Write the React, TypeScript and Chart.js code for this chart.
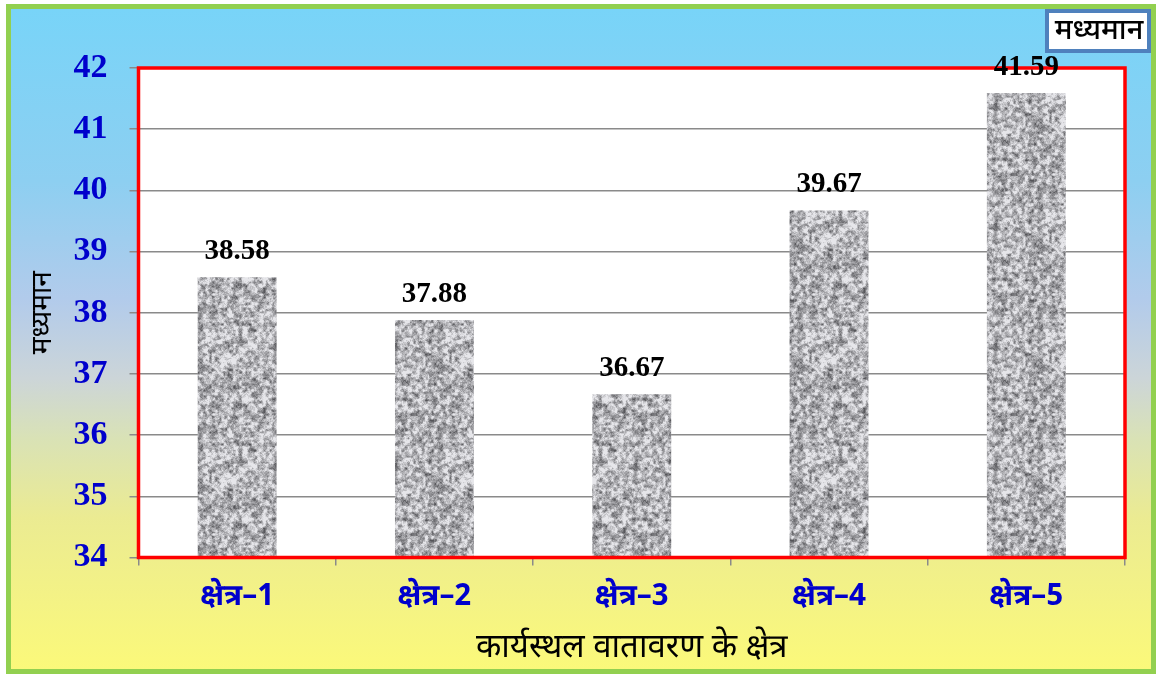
import React, { useEffect, useRef } from "react";
import { Chart, registerables } from "chart.js";

Chart.register(...registerables);

const categories = ["क्षेत्र–1", "क्षेत्र–2", "क्षेत्र–3", "क्षेत्र–4", "क्षेत्र–5"];
const meanValues = [38.58, 37.88, 36.67, 39.67, 41.59];
const seriesLabel = "मध्यमान";
const yAxisTitle = "मध्यमान";
const xAxisTitle = "कार्यस्थल वातावरण के क्षेत्र";
const yMin = 34;
const yMax = 42;

const DEVA = "'Noto Sans Devanagari', 'Lohit Devanagari', 'FreeSans', 'Noto Sans', sans-serif";
const SERIF = "'Liberation Serif', 'DejaVu Serif', serif";

function makeTexture(): CanvasPattern | string {
  const size = 120;
  const c = document.createElement("canvas");
  c.width = size;
  c.height = size;
  const ctx = c.getContext("2d");
  if (!ctx) return "#aaaaaa";
  let seed = 987654321;
  const rnd = () => {
    seed = (Math.imul(seed, 1664525) + 1013904223) >>> 0;
    return seed / 4294967296;
  };
  const octave = (cells: number) => {
    const g: number[] = [];
    for (let i = 0; i < cells * cells; i++) g.push(rnd());
    const v = (i: number, j: number) =>
      g[(((j % cells) + cells) % cells) * cells + (((i % cells) + cells) % cells)];
    return (x: number, y: number) => {
      const fx = (x / size) * cells;
      const fy = (y / size) * cells;
      const x0 = Math.floor(fx);
      const y0 = Math.floor(fy);
      const tx = fx - x0;
      const ty = fy - y0;
      const sx = tx * tx * (3 - 2 * tx);
      const sy = ty * ty * (3 - 2 * ty);
      const a = v(x0, y0) * (1 - sx) + v(x0 + 1, y0) * sx;
      const b = v(x0, y0 + 1) * (1 - sx) + v(x0 + 1, y0 + 1) * sx;
      return a * (1 - sy) + b * sy;
    };
  };
  const o1 = octave(24);
  const o2 = octave(40);
  const o3 = octave(60);
  const o4 = octave(120);
  const img = ctx.createImageData(size, size);
  for (let y = 0; y < size; y++) {
    for (let x = 0; x < size; x++) {
      const n = 0.25 * o1(x, y) + 0.35 * o2(x, y) + 0.25 * o3(x, y) + 0.15 * o4(x, y);
      let val = 180 + (n - 0.5) * 300;
      val = Math.max(85, Math.min(230, val));
      const k = (y * size + x) * 4;
      img.data[k] = val;
      img.data[k + 1] = val;
      img.data[k + 2] = val + 4;
      img.data[k + 3] = 255;
    }
  }
  ctx.putImageData(img, 0, 0);
  const p = ctx.createPattern(c, "repeat");
  return p || "#aaaaaa";
}

const decorPlugin = {
  id: "decor",
  beforeDraw(chart: any) {
    const { ctx, width, height, chartArea } = chart;
    ctx.save();
    ctx.fillStyle = "#ffffff";
    ctx.fillRect(0, 0, width, height);
    const g = ctx.createLinearGradient(0, 9, 0, 669);
    g.addColorStop(0, "#78D4F8");
    g.addColorStop(0.26, "#8DCFF1");
    g.addColorStop(0.44, "#B2CBEB");
    g.addColorStop(0.56, "#CCD5D8");
    g.addColorStop(0.65, "#D9E2B6");
    g.addColorStop(0.77, "#EBEB92");
    g.addColorStop(1, "#FBF97A");
    ctx.fillStyle = g;
    ctx.fillRect(8, 6, width - 12, height - 8);
    ctx.strokeStyle = "#92D050";
    ctx.lineWidth = 5;
    ctx.strokeRect(8.5, 6.5, width - 13, height - 9);
    ctx.fillStyle = "#ffffff";
    ctx.fillRect(chartArea.left, chartArea.top, chartArea.right - chartArea.left, chartArea.bottom - chartArea.top);
    ctx.restore();
  },
  afterDatasetsDraw(chart: any) {
    const { ctx, chartArea } = chart;
    ctx.save();
    ctx.strokeStyle = "#FF0000";
    ctx.lineWidth = 3.5;
    ctx.strokeRect(chartArea.left, chartArea.top, chartArea.right - chartArea.left, chartArea.bottom - chartArea.top);
    const meta = chart.getDatasetMeta(0);
    ctx.fillStyle = "#000000";
    ctx.font = `bold 29px ${SERIF}`;
    ctx.textAlign = "center";
    ctx.textBaseline = "middle";
    meta.data.forEach((el: any, i: number) => {
      const v = chart.data.datasets[0].data[i] as number;
      ctx.fillText(v.toFixed(2), el.x, el.y - 26);
    });
    ctx.restore();
  },
  afterDraw(chart: any) {
    const { ctx } = chart;
    ctx.save();
    ctx.fillStyle = "#ffffff";
    ctx.fillRect(1047, 11, 102, 40);
    ctx.strokeStyle = "#4F81BD";
    ctx.lineWidth = 4;
    ctx.strokeRect(1047, 11, 102, 40);
    ctx.fillStyle = "#000000";
    ctx.font = `500 29px ${DEVA}`;
    ctx.textAlign = "center";
    ctx.textBaseline = "middle";
    ctx.fillText(seriesLabel, 1099, 34);
    ctx.restore();
  },
};

export default function App() {
  const ref = useRef<HTMLCanvasElement | null>(null);
  useEffect(() => {
    document.body.style.margin = "0";
    if (!ref.current) return;
    const pattern = makeTexture();
    const chart = new Chart(ref.current, {
      type: "bar",
      data: {
        labels: categories,
        datasets: [
          {
            label: seriesLabel,
            data: meanValues,
            backgroundColor: pattern as any,
            borderWidth: 0,
            barPercentage: 0.4,
            categoryPercentage: 1.0,
          },
        ],
      },
      options: {
        animation: false,
        responsive: false,
        devicePixelRatio: 1,
        layout: { padding: { left: 0, top: 68, right: 33, bottom: 0 } },
        plugins: {
          legend: { display: false },
          tooltip: { enabled: false },
        },
        scales: {
          x: {
            afterFit: (s: any) => {
              s.height = 116.5;
            },
            grid: {
              drawOnChartArea: false,
              drawTicks: true,
              tickLength: 8,
              color: "#8a8a8a",
              lineWidth: 1.5,
            },
            border: { display: true, color: "#8a8a8a", width: 1.5 },
            ticks: {
              color: "#0000CC",
              font: { family: DEVA, size: 30, weight: "bold" },
              padding: 16,
            },
            title: {
              display: true,
              text: xAxisTitle,
              color: "#000000",
              font: { family: DEVA, size: 33 },
              padding: { top: 0, bottom: 3 },
            },
          },
          y: {
            min: yMin,
            max: yMax,
            afterFit: (s: any) => {
              s.width = 138.5;
            },
            grid: {
              drawTicks: true,
              tickLength: 9,
              color: "#8a8a8a",
              lineWidth: 1.5,
            },
            border: { display: true, color: "#8a8a8a", width: 1.5 },
            ticks: {
              stepSize: 1,
              color: "#0000CC",
              font: { family: SERIF, size: 34, weight: "bold" },
              padding: 22,
            },
            title: {
              display: true,
              text: yAxisTitle,
              color: "#000000",
              font: { family: DEVA, size: 28 },
              padding: { top: 29, bottom: 0 },
            },
          },
        },
      },
      plugins: [decorPlugin],
    });
    return () => chart.destroy();
  }, []);
  return (
    <div style={{ position: "fixed", left: 0, top: 0, width: 1158, height: 674 }}>
      <canvas ref={ref} width={1158} height={674} style={{ display: "block" }} />
    </div>
  );
}
